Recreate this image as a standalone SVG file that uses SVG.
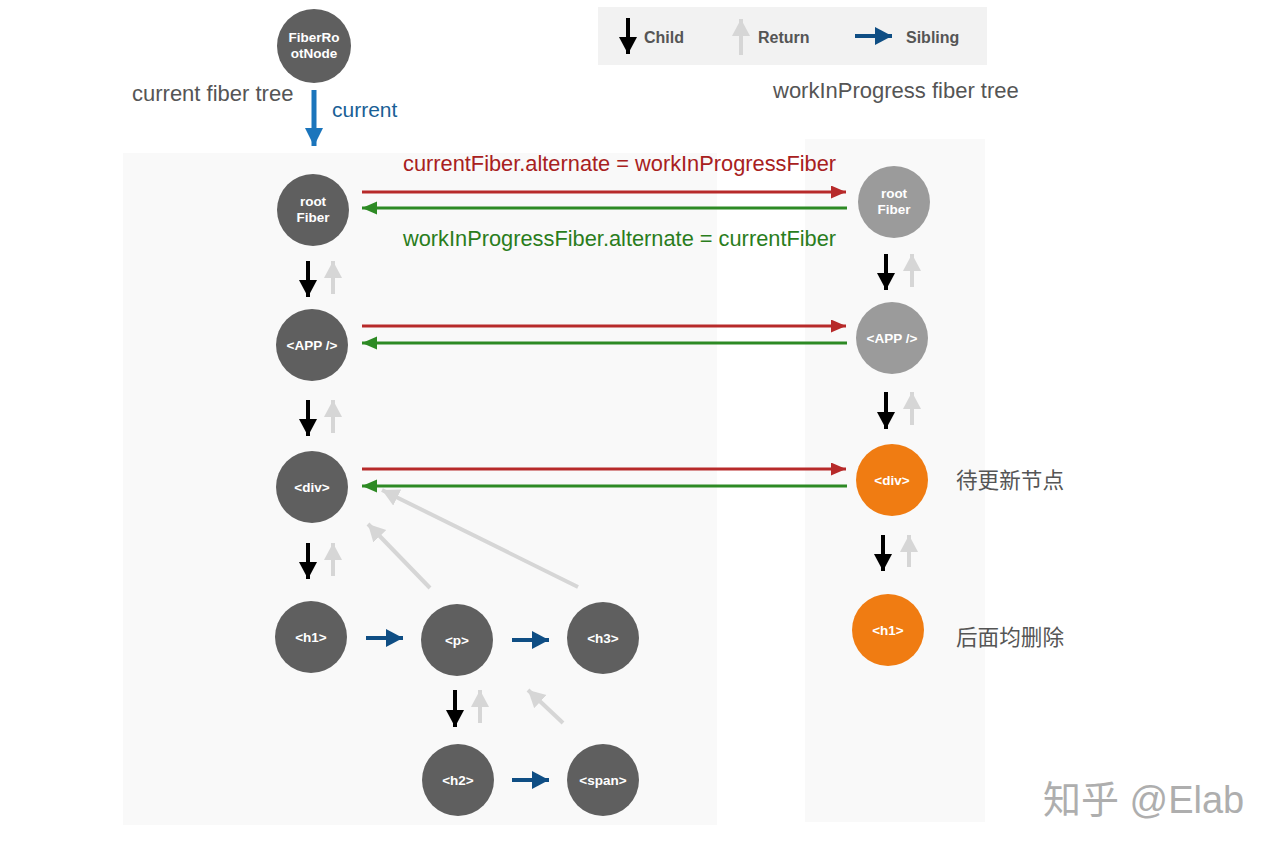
<svg xmlns="http://www.w3.org/2000/svg" width="1280" height="850" viewBox="0 0 1280 850">
<style>
.node{fill:#5f5f5f}
.nodeL{fill:#9b9b9b}
.nodeO{fill:#f07c12}
.nt{font-family:"Liberation Sans",Arial,sans-serif;font-weight:bold;font-size:13.5px;fill:#fff;text-anchor:middle}
.lbl{font-family:"Liberation Sans",Arial,sans-serif;font-size:22px;fill:#555}
.leg{font-family:"Liberation Sans",Arial,sans-serif;font-weight:bold;font-size:16px;fill:#555}
.cjk{font-family:"Liberation Sans","Noto Sans CJK SC",sans-serif;font-size:21.6px;fill:#555}
.child{stroke:#000;stroke-width:4;fill:none}
.ret{stroke:#d6d6d6;stroke-width:4;fill:none}
.sib{stroke:#0f4e84;stroke-width:4;fill:none}
.red{stroke:#b72a2a;stroke-width:3;fill:none}
.green{stroke:#2d8a24;stroke-width:3;fill:none}
</style>
<defs>
<marker id="mBlack" markerUnits="userSpaceOnUse" markerWidth="20" markerHeight="20" refX="17" refY="9" orient="auto"><path d="M0,0 L17,9 L0,18 Z" fill="#000"/></marker>
<marker id="mGray" markerUnits="userSpaceOnUse" markerWidth="20" markerHeight="20" refX="17" refY="9" orient="auto"><path d="M0,0 L17,9 L0,18 Z" fill="#d6d6d6"/></marker>
<marker id="mBlue" markerUnits="userSpaceOnUse" markerWidth="20" markerHeight="20" refX="17" refY="9" orient="auto"><path d="M0,0 L17,9 L0,18 Z" fill="#0f4e84"/></marker>
<marker id="mRed" markerUnits="userSpaceOnUse" markerWidth="16" markerHeight="14" refX="15" refY="6.5" orient="auto"><path d="M0,0 L15,6.5 L0,13 Z" fill="#b72a2a"/></marker>
<marker id="mGreen" markerUnits="userSpaceOnUse" markerWidth="16" markerHeight="14" refX="15" refY="6.5" orient="auto"><path d="M0,0 L15,6.5 L0,13 Z" fill="#2d8a24"/></marker>
<marker id="mCur" markerUnits="userSpaceOnUse" markerWidth="20" markerHeight="20" refX="18" refY="9" orient="auto"><path d="M0,0 L18,9 L0,18 Z" fill="#1b75bc"/></marker>
</defs>

<!-- panels -->
<rect x="123" y="153" width="594" height="672" fill="#f9f9f9"/>
<rect x="805" y="139" width="180" height="683" fill="#f9f9f9"/>
<rect x="598" y="7" width="389" height="58" fill="#f2f2f2"/>

<!-- legend -->
<g id="legend">
<line class="child" x1="628" y1="18" x2="628" y2="54" marker-end="url(#mBlack)"/>
<text class="leg" x="644" y="43">Child</text>
<line class="ret" x1="741" y1="55" x2="741" y2="19" marker-end="url(#mGray)"/>
<text class="leg" x="758" y="43">Return</text>
<line class="sib" x1="855" y1="36" x2="892" y2="36" marker-end="url(#mBlue)"/>
<text class="leg" x="906" y="43">Sibling</text>
</g>

<!-- labels -->
<text class="lbl" x="132" y="101">current fiber tree</text>
<text class="lbl" x="332" y="117" style="fill:#1a5f96;font-size:21px">current</text>
<text class="lbl" x="773" y="98">workInProgress fiber tree</text>
<text class="lbl" x="403" y="171" style="fill:#a82020;font-size:21.8px">currentFiber.alternate = workInProgressFiber</text>
<text class="lbl" x="403" y="246" style="fill:#2a7d1c;font-size:21.8px">workInProgressFiber.alternate = currentFiber</text>
<text class="cjk" x="956" y="488">待更新节点</text>
<text class="cjk" x="956" y="645">后面均删除</text>
<text x="1043" y="813" style="font-family:'Liberation Sans','Noto Sans CJK SC',sans-serif;font-size:38px;fill:#9a9a9a;opacity:0.8">知乎 @Elab</text>

<!-- connectors -->
<g id="connectors">
<line x1="314" y1="90" x2="314" y2="146" stroke="#1b75bc" stroke-width="5" marker-end="url(#mCur)"/>
<line class="red" x1="362" y1="192" x2="846" y2="192" marker-end="url(#mRed)"/>
<line class="green" x1="847" y1="208" x2="362" y2="208" marker-end="url(#mGreen)"/>
<line class="red" x1="362" y1="326" x2="846" y2="326" marker-end="url(#mRed)"/>
<line class="green" x1="847" y1="343" x2="362" y2="343" marker-end="url(#mGreen)"/>
<line class="red" x1="362" y1="469" x2="846" y2="469" marker-end="url(#mRed)"/>
<line class="green" x1="847" y1="486" x2="362" y2="486" marker-end="url(#mGreen)"/>

<line class="child" x1="308" y1="261" x2="308" y2="297" marker-end="url(#mBlack)"/>
<line class="ret" x1="333" y1="294" x2="333" y2="261" marker-end="url(#mGray)"/>
<line class="child" x1="308" y1="400" x2="308" y2="436" marker-end="url(#mBlack)"/>
<line class="ret" x1="333" y1="433" x2="333" y2="400" marker-end="url(#mGray)"/>
<line class="child" x1="308" y1="543" x2="308" y2="579" marker-end="url(#mBlack)"/>
<line class="ret" x1="333" y1="576" x2="333" y2="543" marker-end="url(#mGray)"/>
<line class="child" x1="455" y1="690" x2="455" y2="727" marker-end="url(#mBlack)"/>
<line class="ret" x1="480" y1="723" x2="480" y2="690" marker-end="url(#mGray)"/>

<line class="child" x1="886" y1="254" x2="886" y2="290" marker-end="url(#mBlack)"/>
<line class="ret" x1="912" y1="287" x2="912" y2="254" marker-end="url(#mGray)"/>
<line class="child" x1="886" y1="392" x2="886" y2="429" marker-end="url(#mBlack)"/>
<line class="ret" x1="912" y1="425" x2="912" y2="392" marker-end="url(#mGray)"/>
<line class="child" x1="883" y1="535" x2="883" y2="571" marker-end="url(#mBlack)"/>
<line class="ret" x1="909" y1="567" x2="909" y2="535" marker-end="url(#mGray)"/>

<line class="ret" x1="430" y1="588" x2="368" y2="524" marker-end="url(#mGray)"/>
<line class="ret" x1="578" y1="587" x2="382" y2="490" marker-end="url(#mGray)"/>
<line class="ret" x1="563" y1="723" x2="528" y2="690" marker-end="url(#mGray)"/>

<line class="sib" x1="366" y1="638" x2="403" y2="638" marker-end="url(#mBlue)"/>
<line class="sib" x1="512" y1="640" x2="549" y2="640" marker-end="url(#mBlue)"/>
<line class="sib" x1="512" y1="780" x2="549" y2="780" marker-end="url(#mBlue)"/>
</g>

<!-- nodes -->
<g id="fiberRootNode"><circle class="node" cx="314" cy="46" r="37"/><text class="nt" x="314" y="42">FiberRo</text><text class="nt" x="314" y="58">otNode</text></g>
<g id="rootFiberL"><circle class="node" cx="313" cy="210" r="36"/><text class="nt" x="313" y="206">root</text><text class="nt" x="313" y="222">Fiber</text></g>
<g id="appL"><circle class="node" cx="312" cy="345" r="36"/><text class="nt" x="312" y="350">&lt;APP /&gt;</text></g>
<g id="divL"><circle class="node" cx="312" cy="487" r="36"/><text class="nt" x="312" y="492">&lt;div&gt;</text></g>
<g id="h1L"><circle class="node" cx="311" cy="637" r="36"/><text class="nt" x="311" y="642">&lt;h1&gt;</text></g>
<g id="pL"><circle class="node" cx="457" cy="640" r="36"/><text class="nt" x="457" y="645">&lt;p&gt;</text></g>
<g id="h3L"><circle class="node" cx="603" cy="638" r="36"/><text class="nt" x="603" y="643">&lt;h3&gt;</text></g>
<g id="h2L"><circle class="node" cx="458" cy="780" r="36"/><text class="nt" x="458" y="785">&lt;h2&gt;</text></g>
<g id="spanL"><circle class="node" cx="603" cy="780" r="36"/><text class="nt" x="603" y="785">&lt;span&gt;</text></g>

<g id="rootFiberR"><circle class="nodeL" cx="894" cy="202" r="36"/><text class="nt" x="894" y="198">root</text><text class="nt" x="894" y="214">Fiber</text></g>
<g id="appR"><circle class="nodeL" cx="892" cy="338" r="36"/><text class="nt" x="892" y="343">&lt;APP /&gt;</text></g>
<g id="divR"><circle class="nodeO" cx="892" cy="480" r="36"/><text class="nt" x="892" y="485">&lt;div&gt;</text></g>
<g id="h1R"><circle class="nodeO" cx="888" cy="630" r="36"/><text class="nt" x="888" y="635">&lt;h1&gt;</text></g>
</svg>
